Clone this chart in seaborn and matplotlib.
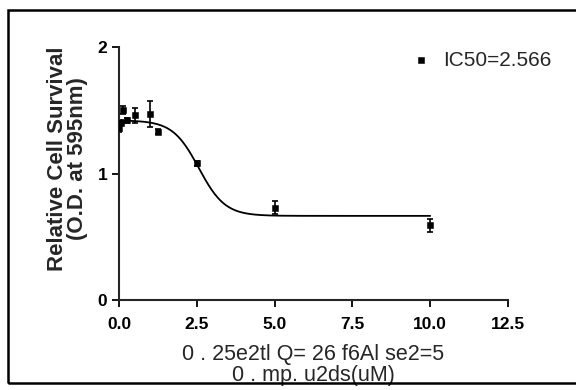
"""
Dose-response plot: relative cell survival vs concentration with sigmoid fit.
"""

import numpy as np
import pandas as pd
import matplotlib
matplotlib.use('Agg')
import matplotlib.pyplot as plt
from matplotlib.patches import Rectangle
import seaborn as sns

conc = [0.0, 0.0625, 0.125, 0.25, 0.5, 1.0, 1.25, 2.5, 5.0, 10.0]
survival = [1.36, 1.40, 1.50, 1.42, 1.46, 1.47, 1.33, 1.08, 0.73, 0.59]
sem = [0.03, 0.02, 0.03, 0.02, 0.06, 0.10, 0.02, 0.02, 0.05, 0.05]

# fitted sigmoid parameters
fit_top = 1.42
fit_bottom = 0.665
ic50 = 2.566
fit_slope = 0.42
fit_xmax = 10.0

x_ticks = [0.0, 2.5, 5.0, 7.5, 10.0, 12.5]
y_ticks = [0, 1, 2]

legend_label = 'IC50=2.566'
y_label = 'Relative Cell Survival\n(O.D. at 595nm)'
x_label = '0 . 25e2tl Q= 26 f6Al se2=5\n0 . mp. u2ds(uM)'

sns.set_style('ticks')
plt.rcParams['font.family'] = ['Liberation Sans', 'DejaVu Sans']

df = pd.DataFrame({'conc': conc, 'survival': survival, 'sem': sem})

xs = np.linspace(0, fit_xmax, 300)
curve = pd.DataFrame({
    'conc': xs,
    'fit': fit_bottom + (fit_top - fit_bottom) / (1 + np.exp((xs - ic50) / fit_slope)),
})

fig = plt.figure(figsize=(5.76, 3.9), dpi=100)
ax = fig.add_axes([119 / 576, 1 - 300 / 390, (508 - 119) / 576, (300 - 47) / 390])

sns.lineplot(data=curve, x='conc', y='fit', ax=ax, color='black', lw=1.3)
ax.errorbar(df['conc'], df['survival'], yerr=df['sem'], fmt='none',
            ecolor='black', elinewidth=1.2, capsize=2.5, capthick=1.2)
sns.scatterplot(data=df, x='conc', y='survival', ax=ax, marker='s', s=24,
                color='black', edgecolor='black', label=legend_label, zorder=5)

ax.set_xlim(0, 12.5)
ax.set_ylim(0, 2)
ax.set_xticks(x_ticks)
ax.set_xticklabels([f'{t:.1f}' for t in x_ticks])
ax.set_yticks(y_ticks)
ax.tick_params(axis='both', direction='out', length=5, width=1.3,
               labelsize=12.5, colors='black')
ax.tick_params(axis='x', pad=7)
for lab in ax.get_xticklabels() + ax.get_yticklabels():
    lab.set_fontweight('bold')
sns.despine(ax=ax)
ax.spines['left'].set_linewidth(1.5)
ax.spines['bottom'].set_linewidth(1.5)

ax.set_ylabel(y_label, fontsize=16, fontweight='bold', linespacing=0.95)
ax.yaxis.set_label_coords(-0.08, 0.56)
ax.set_xlabel(x_label, fontsize=15.5, labelpad=9, linespacing=1.0)

leg = ax.legend(loc='center left', bbox_to_anchor=(0.722, 0.9486),
                frameon=False, fontsize=15, borderpad=0, handlelength=1.0,
                handletextpad=0.6, markerscale=0.75)

# outer frame around the whole figure
fig.add_artist(Rectangle((8 / 576, 7 / 390), 1.0, (383 - 10) / 390,
                         transform=fig.transFigure, fill=False,
                         lw=1.8, edgecolor='black'))

fig.savefig('out.png', dpi=100)
